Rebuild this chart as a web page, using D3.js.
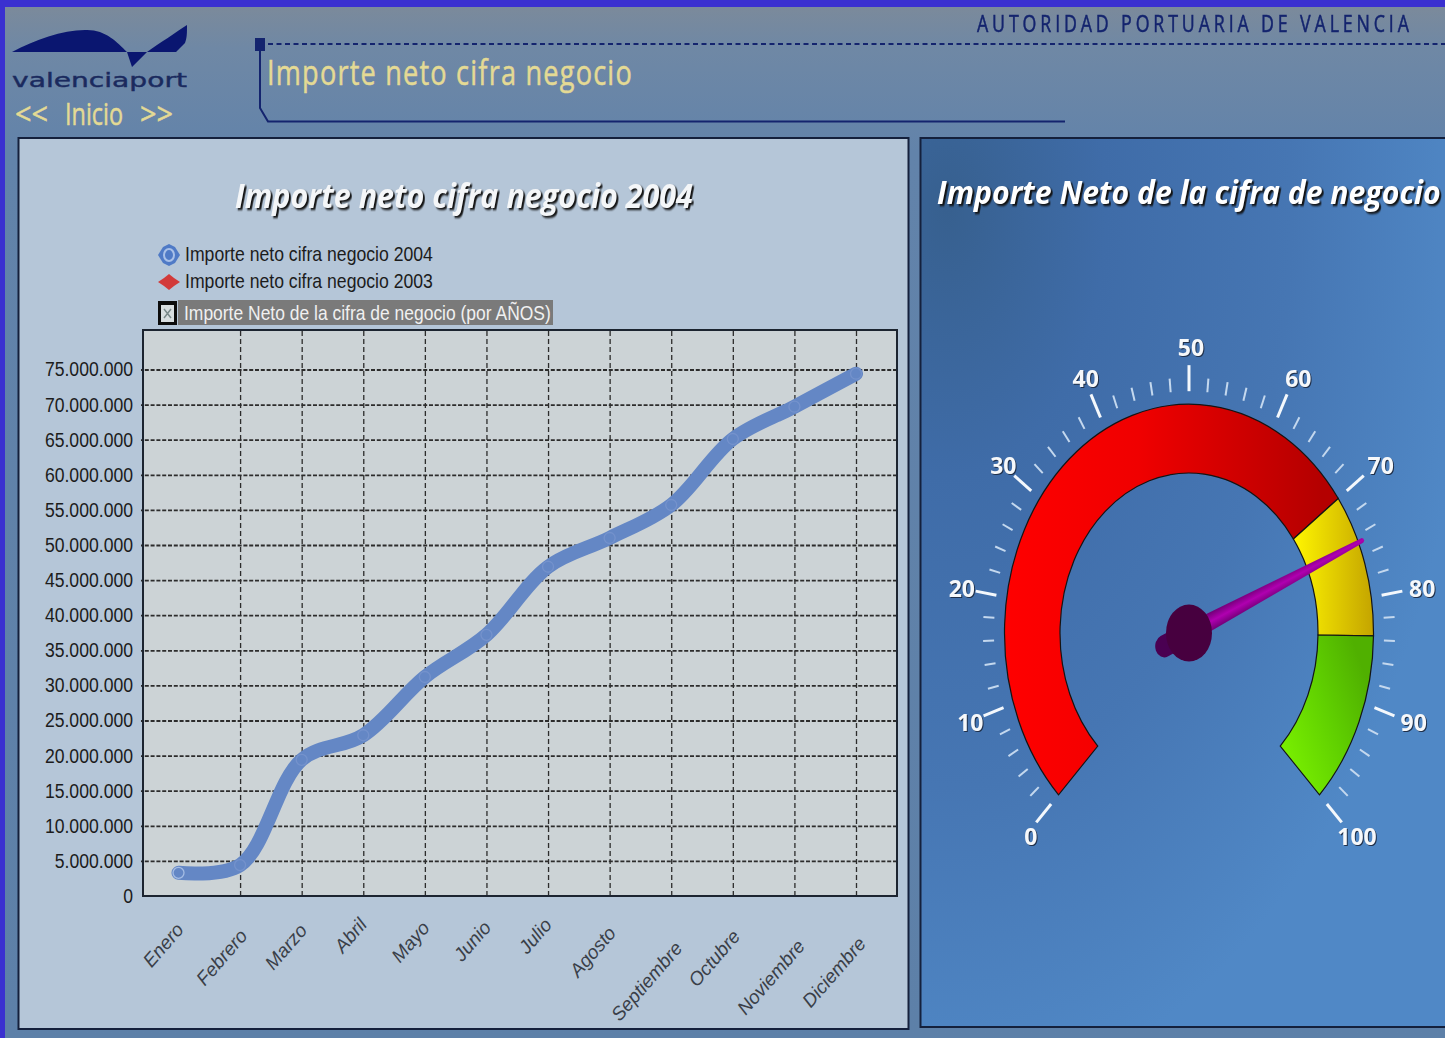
<!DOCTYPE html>
<html>
<head>
<meta charset="utf-8">
<title>Importe neto cifra negocio</title>
<script src="https://cdn.jsdelivr.net/npm/d3@7"></script>
<style>
html, body { margin: 0; padding: 0; background: #3a30d0; overflow: hidden; }
svg { display: block; filter: blur(0.4px); }
</style>
</head>
<body>
<script>
var meses = ["Enero", "Febrero", "Marzo", "Abril", "Mayo", "Junio", "Julio", "Agosto", "Septiembre", "Octubre", "Noviembre", "Diciembre"];
var importe2004 = [3300000, 4400000, 19400000, 22900000, 31200000, 37200000, 46900000, 51000000, 55700000, 65100000, 69700000, 74400000];
var yTicks = [0, 5000000, 10000000, 15000000, 20000000, 25000000, 30000000, 35000000, 40000000, 45000000, 50000000, 55000000, 60000000, 65000000, 70000000, 75000000];
var leyenda = ["Importe neto cifra negocio 2004", "Importe neto cifra negocio 2003"];
var leyendaColores = ["#4f7ac6", "#d23a3a"];
var gaugeTicks = [0, 10, 20, 30, 40, 50, 60, 70, 80, 90, 100];
var gaugeMinor = d3.range(0, 101, 2);   // every 2 units, the majors get drawn over them
var gaugeBandas = [[0, 70, "url(#gRojo)"], [70, 83.6, "url(#gAmarillo)"], [83.6, 100, "url(#gVerde)"]];
var gaugeValor = 74.7;

var width = 1445, height = 1038;
var svg = d3.select("body").append("svg").attr("width", width).attr("height", height);
var defs = svg.append("defs");

function gradiente(id, x1, y1, x2, y2, stops) {
	var g = defs.append("linearGradient").attr("id", id)
		.attr("x1", x1).attr("y1", y1).attr("x2", x2).attr("y2", y2);
	stops.forEach(function(s) { g.append("stop").attr("offset", s[0]).attr("stop-color", s[1]); });
}
gradiente("gFondo", 0, 0, 0, 1, [[0, "#7b8a9b"], [0.04, "#6f88a5"], [0.14, "#6283aa"], [1, "#5d80a8"]]);
gradiente("gRojo", 0, 0, 1, 0, [[0, "#ff0000"], [0.4, "#f00000"], [0.95, "#b40000"]]);
gradiente("gAmarillo", 0, 0, 1, 0, [[0, "#fff600"], [1, "#c4a400"]]);
gradiente("gVerde", 0, 1, 1, 0.4, [[0, "#80f800"], [0.6, "#60d000"], [1, "#50b000"]]);
gradiente("gAguja", 0, 0, 1, 0, [[0, "#6a0070"], [0.5, "#b000b0"], [1, "#6a0070"]]);

var gPanel = defs.append("radialGradient").attr("id", "gPanel")
	.attr("cx", 0.05).attr("cy", 0.08).attr("fx", 0.05).attr("fy", 0.08).attr("r", 1);
[[0, "#37608f"], [0.3, "#3f6ca8"], [0.65, "#4676b3"], [1, "#5088c6"]].forEach(function(s) {
	gPanel.append("stop").attr("offset", s[0]).attr("stop-color", s[1]);
});

// background, blue page border
svg.append("rect").attr("x", 5).attr("y", 7).attr("width", width - 5).attr("height", height - 7)
	.attr("fill", "url(#gFondo)");

// squeeze a text to the width measured on the picture
function encajar(sel, x, y, w) {
	var natural = sel.node().getComputedTextLength();
	sel.attr("transform", "translate(" + x + "," + y + ") scale(" + (w / natural) + ",1)");
	return sel;
}
function ajustar(sel, w) {
	sel.attr("textLength", w).attr("lengthAdjust", "spacingAndGlyphs");
	return sel;
}

// ---- header ----
var navy = "#14246e", crema = "#e4da94";
var cab = svg.append("g");
cab.append("path")
	.attr("d", "M12,52 C35,40 62,30 85,30 C105,29 117,42 127,52 L132,67 L147,52 C160,43 175,33 187,25 C187,33 187,38 185,43 L176,52 Z")
	.attr("fill", "#0a1670");
cab.append("text").text("valenciaport")
	.attr("font-family", "DejaVu Sans").attr("font-size", 19).attr("fill", "#1a2a5e")
	.attr("stroke", "#1a2a5e").attr("stroke-width", 0.4)
	.call(encajar, 12, 87, 175);
[["<<", 15, 33], ["Inicio", 65, 58], [">>", 140, 33]].forEach(function(t) {
	cab.append("text").text(t[0])
		.attr("font-family", "Open Sans").attr("font-size", 31).attr("fill", crema)
		.attr("stroke", crema).attr("stroke-width", 0.5)
		.call(encajar, t[1], 125, t[2]);
});
cab.append("text").text("Importe neto cifra negocio")
	.attr("font-family", "Open Sans").attr("font-size", 34).attr("letter-spacing", 1.5).attr("fill", crema)
	.attr("stroke", crema).attr("stroke-width", 0.5)
	.call(encajar, 267, 85, 366);
cab.append("text").text("AUTORIDAD PORTUARIA DE VALENCIA")
	.attr("font-family", "Open Sans").attr("font-size", 23).attr("letter-spacing", 5).attr("fill", navy)
	.attr("stroke", navy).attr("stroke-width", 0.5)
	.call(encajar, 977, 32, 436);
cab.append("rect").attr("x", 255).attr("y", 38).attr("width", 10).attr("height", 13).attr("fill", navy);
cab.append("line").attr("x1", 268).attr("x2", 1445).attr("y1", 44).attr("y2", 44)
	.attr("stroke", navy).attr("stroke-width", 2).attr("stroke-dasharray", "5,3.5");
cab.append("path").attr("d", "M260,50 V108 L268,121.5 H1065")
	.attr("fill", "none").attr("stroke", navy).attr("stroke-width", 2);

// ---- left panel ----
svg.append("rect").attr("x", 18.5).attr("y", 138).attr("width", 890).attr("height", 891)
	.attr("fill", "#b5c6d8").attr("stroke", "#14203c").attr("stroke-width", 2);

var sombra = "drop-shadow(2px 2px 0.8px #111)";
svg.append("text").text("Importe neto cifra negocio 2004")
	.attr("font-family", "Open Sans").attr("font-size", 34).attr("font-weight", "bold").attr("font-style", "italic")
	.attr("fill", "#f4f6f8").style("filter", sombra)
	.call(encajar, 235, 208, 458);

// legend
var ley = svg.append("g").selectAll("g").data(leyenda).enter().append("g")
	.attr("transform", function(d, i) { return "translate(169," + (255 + i * 27) + ")"; });
ley.append("path").attr("d", function(d, i) {
		return i ? "M-11,0 L-5,-4 L0,-8 L5,-4 L11,0 L5,4 L0,8 L-5,4 Z" : "M-11,0 L-6,-8 L0,-11 L6,-8 L11,0 L6,8 L0,11 L-6,8 Z";
	})
	.attr("fill", function(d, i) { return leyendaColores[i]; });
ley.filter(function(d, i) { return i === 0; }).append("ellipse").attr("rx", 5).attr("ry", 6)
	.attr("fill", "none").attr("stroke", "#a8c0e8").attr("stroke-width", 2);
ley.append("text").text(function(d) { return d; })
	.attr("font-family", "Liberation Sans").attr("font-size", 20).attr("fill", "#1c1c1c")
	.each(function() { d3.select(this).call(encajar, 16, 6, 248); });

svg.append("rect").attr("x", 158).attr("y", 301).attr("width", 19).attr("height", 24).attr("fill", "#0c0c0c");
svg.append("rect").attr("x", 161).attr("y", 305).attr("width", 13).attr("height", 17).attr("fill", "#d8dee0");
svg.append("path").attr("d", "M164,309 L171,318 M171,309 L164,318").attr("stroke", "#7a8a8a").attr("stroke-width", 1.5);
svg.append("rect").attr("x", 178).attr("y", 300).attr("width", 375).attr("height", 25).attr("fill", "#7a7a7a");
svg.append("text").text("Importe Neto de la cifra de negocio (por AÑOS)")
	.attr("font-family", "Liberation Sans").attr("font-size", 20).attr("fill", "#f0f0f0")
	.call(encajar, 184, 320, 367);

// chart
var plot = { left: 143, right: 897, top: 330, bottom: 896 };
var x = d3.scalePoint().domain(meses).range([178.5, 856]);
var y = d3.scaleLinear().domain([0, 75000000]).range([plot.bottom, 369.5]);
var fmt = d3.formatLocale({ decimal: ",", thousands: ".", grouping: [3], currency: ["", ""] }).format(",");

svg.append("rect").attr("x", plot.left).attr("y", plot.top)
	.attr("width", plot.right - plot.left).attr("height", plot.bottom - plot.top)
	.attr("fill", "#ccd3d6");

var gridX = svg.append("g").attr("transform", "translate(0," + plot.bottom + ")")
	.call(d3.axisBottom(x).tickValues(meses.slice(1)).tickSize(-(plot.bottom - plot.top)).tickFormat(""));
gridX.select(".domain").remove();
gridX.selectAll("line").attr("stroke", "#2c2c2c").attr("stroke-width", 1.3).attr("stroke-dasharray", "5,3");

var ejeY = svg.append("g").attr("transform", "translate(" + plot.left + ",0)")
	.call(d3.axisLeft(y).tickValues(yTicks).tickSize(0).tickPadding(10).tickFormat(fmt));
ejeY.select(".domain").remove();
ejeY.selectAll("text")
	.attr("font-family", "Liberation Sans").attr("font-size", 20).attr("fill", "#1c1c1c")
	.each(function() { d3.select(this).call(ajustar, this.getComputedTextLength() * 0.88); });

var gridY = svg.append("g").attr("transform", "translate(" + plot.right + ",0)")
	.call(d3.axisLeft(y).tickValues(yTicks.slice(1)).tickSize(plot.right - plot.left + 2).tickFormat(""));
gridY.select(".domain").remove();
gridY.selectAll("line").attr("stroke", "#2c2c2c").attr("stroke-width", 1.8).attr("stroke-dasharray", "4,1.8");

svg.append("rect").attr("x", plot.left).attr("y", plot.top)
	.attr("width", plot.right - plot.left).attr("height", plot.bottom - plot.top)
	.attr("fill", "none").attr("stroke", "#1c2430").attr("stroke-width", 2);

var ejeX = svg.append("g").attr("transform", "translate(0," + plot.bottom + ")")
	.call(d3.axisBottom(x).tickSize(0).tickFormat(function(d) { return d; }));
ejeX.select(".domain").remove();
// in the picture the longer names hang lower and further right
ejeX.selectAll("text")
	.attr("font-family", "Liberation Sans").attr("font-size", 19).attr("font-style", "italic").attr("fill", "#3a3f48")
	.attr("text-anchor", "end").attr("dy", 0).attr("y", 0)
	.each(function() {
		var largo = this.getComputedTextLength();
		var dx = 7 + (largo - 60) * 0.13, dy = 32 + (largo - 45) * 0.4;
		d3.select(this).attr("transform", "translate(" + dx + "," + dy + ") rotate(-49)");
	});

var linea = d3.line().x(function(d, i) { return x(meses[i]); }).y(function(d) { return y(d); })
	.curve(d3.curveCatmullRom.alpha(0.5));
svg.append("path").datum(importe2004).attr("d", linea)
	.attr("fill", "none").attr("stroke", "#6487c5").attr("stroke-width", 14)
	.attr("stroke-linecap", "round").attr("stroke-linejoin", "round");
svg.append("g").selectAll("circle").data(importe2004).enter().append("circle")
	.attr("cx", function(d, i) { return x(meses[i]); }).attr("cy", function(d) { return y(d); })
	.attr("r", 5.5).attr("fill", "none").attr("stroke", function(d, i) { return i ? "#7492cc" : "#a4bce4"; }).attr("stroke-width", 1.3);

// ---- right panel, gauge ----
svg.append("rect").attr("x", 920.5).attr("y", 138).attr("width", 530).attr("height", 889)
	.attr("fill", "url(#gPanel)").attr("stroke", "#14203c").attr("stroke-width", 2);
svg.append("text").text("Importe Neto de la cifra de negocio")
	.attr("font-family", "Open Sans").attr("font-size", 33).attr("font-weight", "bold").attr("font-style", "italic")
	.attr("fill", "#ffffff").style("filter", sombra)
	.call(encajar, 937, 204, 504);

var cx = 1189, cy = 633, estirado = 1.24;   // the gauge is stretched vertically in the picture
var angulo = d3.scaleLinear().domain([0, 100]).range([-135, 135]);
function punto(v, r) {
	var a = angulo(v) * Math.PI / 180;
	return [cx + r * Math.sin(a), cy - r * estirado * Math.cos(a)];
}

var marcas = svg.append("g");
marcas.selectAll("line.menor").data(gaugeMinor.filter(function(v) { return v % 10 !== 0; })).enter().append("line")
	.attr("class", "menor")
	.attr("x1", function(v) { return punto(v, 195)[0]; }).attr("y1", function(v) { return punto(v, 195)[1]; })
	.attr("x2", function(v) { return punto(v, 206)[0]; }).attr("y2", function(v) { return punto(v, 206)[1]; })
	.attr("stroke", "#c4d8ee").attr("stroke-width", 2);
marcas.selectAll("line.mayor").data(gaugeTicks).enter().append("line")
	.attr("class", "mayor")
	.attr("x1", function(v) { return punto(v, 195)[0]; }).attr("y1", function(v) { return punto(v, 195)[1]; })
	.attr("x2", function(v) { return punto(v, 216)[0]; }).attr("y2", function(v) { return punto(v, 216)[1]; })
	.attr("stroke", "#f4f8fc").attr("stroke-width", 3);
marcas.selectAll("text").data(gaugeTicks).enter().append("text")
	.text(function(v) { return v; })
	.attr("x", function(v) { return punto(v, 232)[0] + (v === 0 ? 6 : v >= 60 ? 4 : 2); })
	.attr("y", function(v) { return punto(v, 231)[1] + 9; })
	.attr("text-anchor", "middle")
	.attr("font-family", "Open Sans").attr("font-size", 23).attr("font-weight", "bold").attr("fill", "#f6f8fa")
	.style("filter", "drop-shadow(1px 1px 0.6px #20304a)");

var aguja = svg.append("g").attr("transform", "translate(" + cx + "," + cy + ") scale(1," + estirado + ")");
var arco = d3.arc().innerRadius(129).outerRadius(184.5);
aguja.selectAll("path.banda").data(gaugeBandas).enter().append("path")
	.attr("class", "banda")
	.attr("d", function(d) {
		return arco({ startAngle: angulo(d[0]) * Math.PI / 180, endAngle: angulo(d[1]) * Math.PI / 180 });
	})
	.attr("fill", function(d) { return d[2]; })
	.attr("stroke", "#141414").attr("stroke-width", 1.2).attr("vector-effect", "non-scaling-stroke");

var mano = aguja.append("g").attr("transform", "rotate(" + angulo(gaugeValor) + ")");
mano.append("line").attr("x1", 0).attr("x2", 0).attr("y1", 0).attr("y2", 27)
	.attr("stroke", "#4a0052").attr("stroke-width", 18).attr("stroke-linecap", "round");
mano.append("path").attr("d", "M-2,-189 Q0,-192 2,-189 L8,0 L-8,0 Z")
	.attr("fill", "url(#gAguja)");
aguja.append("ellipse").attr("rx", 23).attr("ry", 23).attr("fill", "#47003f");
</script>
</body>
</html>
